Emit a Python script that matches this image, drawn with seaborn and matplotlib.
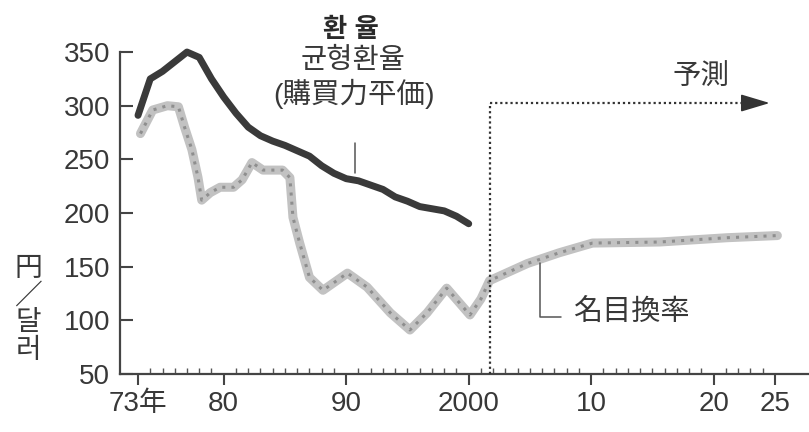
import matplotlib
matplotlib.use("Agg")
import matplotlib.pyplot as plt
import seaborn as sns
import pandas as pd
import numpy as np

# ---- data ----
ppp_years = list(range(1973, 2001))
ppp_values = [291, 325, 332, 341, 350, 345, 325, 308, 293, 280, 272, 267, 263, 258,
              253, 244, 237, 232, 230, 226, 222, 215, 211, 206, 204, 202, 197, 190]

nominal_years = [1973.2, 1974.2, 1975.4, 1976.3, 1976.8, 1977.4, 1977.9, 1978.2, 1978.9,
                 1979.7, 1980.8, 1981.5, 1982.3, 1983.2, 1984.8, 1985.4, 1985.65, 1986.2,
                 1987.0, 1988.1, 1990.1, 1991.7, 1993.6, 1995.2, 1996.6, 1998.2, 2000.1,
                 2001.0, 2001.7, 2004.8, 2007.4, 2010.1, 2015.6, 2021.1, 2025.2]
nominal_values = [274, 296, 300, 299, 280, 259, 233, 212, 219,
                  224, 224, 231, 247, 240, 240, 233, 196, 172,
                  140, 128, 144, 131, 107, 91, 107, 130, 105,
                  120, 137, 153, 163, 172, 173, 177, 179]

y_ticks = [50, 100, 150, 200, 250, 300, 350]
x_ticks = [1973, 1980, 1990, 2000, 2010, 2020, 2025]
x_tick_labels = ["73年", "80", "90", "2000", "10", "20", "25"]
forecast_start = 2001.7

title_text = "환 율"
ppp_label = "균형환율\n(購買力平価)"
nominal_label = "名目換率"
forecast_label = "予測"
y_unit = "円\n／\n달\n러"

# ---- style ----
sns.set_theme(style="white")
plt.rcParams["font.family"] = ["Liberation Sans", "Noto Sans CJK KR", "DejaVu Sans"]
txt = "#383838"

W, H = 809, 432
fig = plt.figure(figsize=(W / 100, H / 100), dpi=100)
fig.patch.set_facecolor("white")
ax = fig.add_axes([120 / W, 1 - 374 / H, (W - 120) / W, 374 / H])
ax.set_facecolor("none")

ppp_df = pd.DataFrame({"year": ppp_years, "value": ppp_values})
nom_df = pd.DataFrame({"year": nominal_years, "value": nominal_values})

# nominal rate: halftone-looking thick grey line
sns.lineplot(data=nom_df, x="year", y="value", ax=ax, color="#c2c2c2", lw=6.5,
             solid_capstyle="round", solid_joinstyle="round", sort=False, zorder=2)
sns.lineplot(data=nom_df, x="year", y="value", ax=ax, color="#8e8e8e", lw=2.2,
             linestyle=(0, (1, 2)), sort=False, zorder=3)
# PPP rate: thick dark line
sns.lineplot(data=ppp_df, x="year", y="value", ax=ax, color="#3a3a3a", lw=5,
             solid_capstyle="round", solid_joinstyle="round", zorder=4)

ax.set_xlim(1971.53, 2027.78)
ax.set_ylim(50, 398.5)

# forecast marker: dotted vertical + horizontal arrow
dot = (0, (1, 1.3))
ax.plot([forecast_start, forecast_start], [50, 302.5], color="#333333", lw=1.6,
        linestyle=dot, zorder=5)
ax.plot([forecast_start, 2023.3], [302.5, 302.5], color="#333333", lw=1.6,
        linestyle=dot, zorder=5)
ax.annotate("", xy=(2024.8, 302.5), xytext=(2023.0, 302.5),
            arrowprops=dict(arrowstyle="-|>,head_length=1.0,head_width=0.3",
                            color="#333333", lw=1.2, mutation_scale=18))

# texts
ax.text(1990.4, 371, title_text, ha="center", va="center", fontsize=19,
        fontweight="bold", color="#2a2a2a")
ax.text(1990.6, 325, ppp_label, ha="center", va="center", fontsize=20.5,
        color=txt, linespacing=1.2)
ax.plot([1990.7, 1990.7], [237, 265], color="#555555", lw=1.1)

ax.text(2019.0, 326, forecast_label, ha="center", va="center", fontsize=20.5,
        color=txt)

ax.text(2013.3, 107, nominal_label, ha="center", va="center", fontsize=21,
        color=txt)
ax.plot([2005.8, 2005.8, 2007.5], [153, 103, 103], color="#555555", lw=1.1)

fig.text(28 / W, 1 - 310 / H, y_unit, ha="center", va="center", fontsize=20,
         color=txt, linespacing=1.05)

# axes styling
for s in ["top", "right"]:
    ax.spines[s].set_visible(False)
for s in ["left", "bottom"]:
    ax.spines[s].set_color("#444444")
    ax.spines[s].set_linewidth(1.6)
ax.spines["left"].set_bounds(50, 350)

ax.set_yticks(y_ticks)
ax.set_yticklabels([str(v) for v in y_ticks])
ax.set_xticks(x_ticks)
ax.set_xticklabels(x_tick_labels)
ax.set_xticks(list(range(1973, 2026)), minor=True)

ax.tick_params(axis="y", direction="in", length=9, width=1.5, color="#444444",
               labelsize=20, labelcolor=txt, pad=7, left=True)
ax.tick_params(axis="x", which="major", direction="out", length=8, width=1.5,
               color="#444444", labelsize=20, labelcolor=txt, pad=4, bottom=True)
ax.tick_params(axis="x", which="minor", direction="in", length=4, width=1.0,
               color="#555555", bottom=True)
ax.set_xlabel("")
ax.set_ylabel("")
ax.grid(False)

fig.savefig("out.png", dpi=100, facecolor="white")
